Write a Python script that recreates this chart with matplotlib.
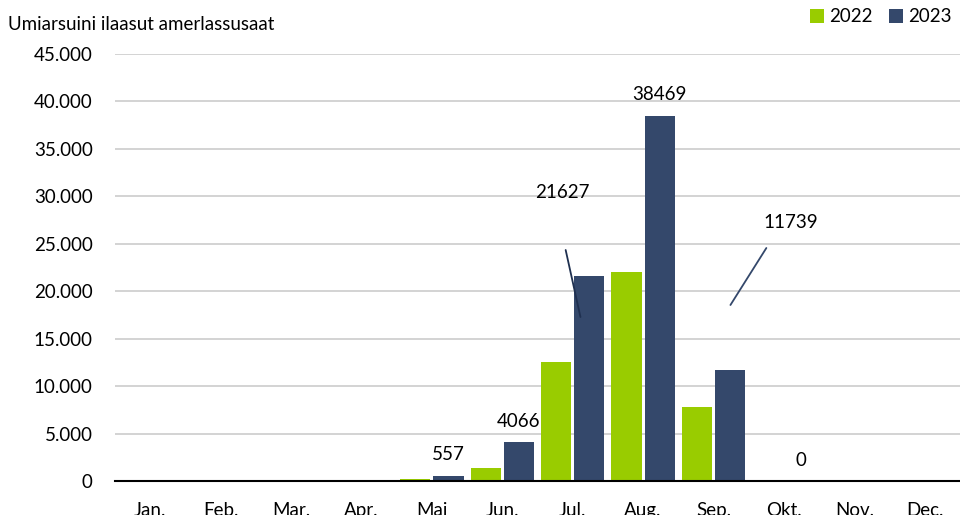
import matplotlib
matplotlib.use("Agg")
import matplotlib.pyplot as plt
from matplotlib.ticker import FuncFormatter
import numpy as np

plt.rcParams['font.family'] = ['Lato', 'DejaVu Sans']

months = ["Jan.", "Feb.", "Mar.", "Apr.", "Mai", "Jun.", "Jul.", "Aug.", "Sep.", "Okt.", "Nov.", "Dec."]
v2022 = [0, 0, 0, 0, 200, 1350, 12500, 22000, 7800, 0, 0, 0]
v2023 = [0, 0, 0, 0, 557, 4066, 21627, 38469, 11739, 0, 0, 0]
yticks = [0, 5000, 10000, 15000, 20000, 25000, 30000, 35000, 40000, 45000]
title = "Umiarsuini ilaasut amerlassusaat"

c22 = "#99cc00"
c23 = "#34486b"
fs = 13.5

fig = plt.figure(figsize=(9.6, 5.15), dpi=100)
ax = fig.add_axes([115/960, 1-481/515, 1-115/960, (481-54)/515])

x = np.arange(len(months))
w = 0.43
off = 0.235
ax.bar(x - off, v2022, w, color=c22, label="2022", zorder=3)
ax.bar(x + off, v2023, w, color=c23, label="2023", zorder=3)

ax.set_xlim(-0.5, 11.5)
ax.set_ylim(0, 45000)
ax.set_yticks(yticks)
ax.yaxis.set_major_formatter(FuncFormatter(lambda v, p: f"{int(v):,}".replace(",", ".")))
ax.set_xticks(x)
ax.set_xticklabels(months)
ax.tick_params(axis='both', length=0, labelsize=fs, colors="#000000")
ax.tick_params(axis='y', pad=16)
ax.tick_params(axis='x', pad=15)
ax.grid(axis='y', color="#d0d0d0", linewidth=1.3, zorder=0)
for s in ["top", "right", "left"]:
    ax.spines[s].set_visible(False)
ax.spines["bottom"].set_color("#000000")
ax.spines["bottom"].set_linewidth(1.5)
ax.spines["bottom"].set_zorder(4)

# data labels directly above bars
for i in [4, 5, 7, 9]:
    ax.annotate(str(v2023[i]), xy=(i + off, v2023[i]), xytext=(0, 9), textcoords="offset points",
                ha="center", va="bottom", fontsize=fs)

# labels with leader lines
ax.text(5.86, 30456, str(v2023[6]), ha="center", va="center", fontsize=fs)
ax.annotate("", xy=(6.11, 17283), xytext=(5.90, 24344),
            arrowprops=dict(arrowstyle="-", color="#1f3050", lw=1.3, shrinkA=0, shrinkB=0), zorder=5)
ax.text(9.09, 27295, str(v2023[8]), ha="center", va="center", fontsize=fs)
ax.annotate("", xy=(8.24, 18548), xytext=(8.75, 24555),
            arrowprops=dict(arrowstyle="-", color=c23, lw=1.3, shrinkA=0, shrinkB=0), zorder=5)

fig.text(8/960, 1-24/515, title, ha="left", va="center", fontsize=fs)

leg = fig.legend(loc="upper right", bbox_to_anchor=(1.0, 1.0), ncol=2, frameon=False,
                 fontsize=fs, handlelength=0.75, handleheight=0.75, handletextpad=0.25,
                 columnspacing=0.9, borderaxespad=0.2, borderpad=0.25)

fig.savefig("out.png", dpi=100)
